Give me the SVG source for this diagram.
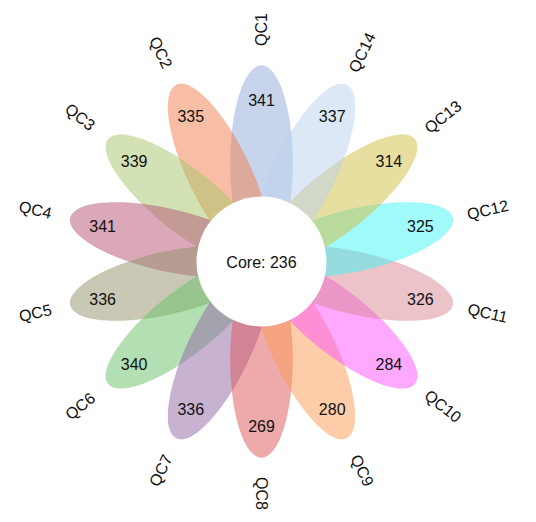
<svg xmlns="http://www.w3.org/2000/svg" width="536" height="522" viewBox="0 0 536 522">
<style>
.p{fill-opacity:0.5;stroke-width:0.6;stroke-opacity:0.35}
.n{font-family:"Liberation Sans",Arial,sans-serif;font-size:16px;fill:#111;text-anchor:middle}
.l{font-family:"Liberation Sans",Arial,sans-serif;font-size:16px;fill:#111;text-anchor:middle;dominant-baseline:central}
.c{font-family:"Liberation Sans",Arial,sans-serif;font-size:16px;fill:#111;text-anchor:middle}
</style>
<rect width="536" height="522" fill="#fff"/>
<g id="QC1"><ellipse class="p" transform="rotate(-90 261.5 261.5)" cx="359.5" cy="261.5" rx="98" ry="31" fill="#91a9d9" stroke="#91a9d9"/><text class="n" x="261.5" y="105.5">341</text><text class="l" transform="translate(261.5 29.5) rotate(-90)">QC1</text></g>
<g id="QC2"><ellipse class="p" transform="rotate(-115.714 261.5 261.5)" cx="359.5" cy="261.5" rx="98" ry="31" fill="#ef7d4b" stroke="#ef7d4b"/><text class="n" x="190.8" y="121.6">335</text><text class="l" transform="translate(160.8 52.5) rotate(64.286)">QC2</text></g>
<g id="QC3"><ellipse class="p" transform="rotate(-141.429 261.5 261.5)" cx="359.5" cy="261.5" rx="98" ry="31" fill="#a5c569" stroke="#a5c569"/><text class="n" x="134.1" y="166.9">339</text><text class="l" transform="translate(80.1 116.9) rotate(38.571)">QC3</text></g>
<g id="QC4"><ellipse class="p" transform="rotate(-167.143 261.5 261.5)" cx="359.5" cy="261.5" rx="98" ry="31" fill="#b55173" stroke="#b55173"/><text class="n" x="102.6" y="232.2">341</text><text class="l" transform="translate(35.3 209.9) rotate(12.857)">QC4</text></g>
<g id="QC5"><ellipse class="p" transform="rotate(-192.857 261.5 261.5)" cx="359.5" cy="261.5" rx="98" ry="31" fill="#919169" stroke="#919169"/><text class="n" x="102.6" y="304.8">336</text><text class="l" transform="translate(35.3 313.1) rotate(-12.857)">QC5</text></g>
<g id="QC6"><ellipse class="p" transform="rotate(-218.571 261.5 261.5)" cx="359.5" cy="261.5" rx="98" ry="31" fill="#65c165" stroke="#65c165"/><text class="n" x="134.1" y="370.1">340</text><text class="l" transform="translate(80.1 406.1) rotate(-38.571)">QC6</text></g>
<g id="QC7"><ellipse class="p" transform="rotate(-244.286 261.5 261.5)" cx="359.5" cy="261.5" rx="98" ry="31" fill="#9165a5" stroke="#9165a5"/><text class="n" x="190.8" y="415.4">336</text><text class="l" transform="translate(160.8 470.5) rotate(-64.286)">QC7</text></g>
<g id="QC8"><ellipse class="p" transform="rotate(-270 261.5 261.5)" cx="359.5" cy="261.5" rx="98" ry="31" fill="#dd5555" stroke="#dd5555"/><text class="n" x="261.5" y="432">269</text><text class="l" transform="translate(261.5 493.5) rotate(90)">QC8</text></g>
<g id="QC9"><ellipse class="p" transform="rotate(-295.714 261.5 261.5)" cx="359.5" cy="261.5" rx="98" ry="31" fill="#fb9b55" stroke="#fb9b55"/><text class="n" x="332.2" y="415.4">280</text><text class="l" transform="translate(362.2 470.5) rotate(64.286)">QC9</text></g>
<g id="QC10"><ellipse class="p" transform="rotate(-321.429 261.5 261.5)" cx="359.5" cy="261.5" rx="98" ry="31" fill="#ff51ff" stroke="#ff51ff"/><text class="n" x="388.9" y="370.1">284</text><text class="l" transform="translate(442.9 406.1) rotate(38.571)">QC10</text></g>
<g id="QC11"><ellipse class="p" transform="rotate(-347.143 261.5 261.5)" cx="359.5" cy="261.5" rx="98" ry="31" fill="#d78791" stroke="#d78791"/><text class="n" x="420.4" y="304.8">326</text><text class="l" transform="translate(487.7 313.1) rotate(12.857)">QC11</text></g>
<g id="QC12"><ellipse class="p" transform="rotate(-12.857 261.5 261.5)" cx="359.5" cy="261.5" rx="98" ry="31" fill="#41f5f5" stroke="#41f5f5"/><text class="n" x="420.4" y="232.2">325</text><text class="l" transform="translate(487.7 209.9) rotate(-12.857)">QC12</text></g>
<g id="QC13"><ellipse class="p" transform="rotate(-38.571 261.5 261.5)" cx="359.5" cy="261.5" rx="98" ry="31" fill="#d1bd41" stroke="#d1bd41"/><text class="n" x="388.9" y="166.9">314</text><text class="l" transform="translate(442.9 116.9) rotate(-38.571)">QC13</text></g>
<g id="QC14"><ellipse class="p" transform="rotate(-64.286 261.5 261.5)" cx="359.5" cy="261.5" rx="98" ry="31" fill="#b9d1ed" stroke="#b9d1ed"/><text class="n" x="332.2" y="121.6">337</text><text class="l" transform="translate(362.2 52.5) rotate(-64.286)">QC14</text></g>
<g id="core"><circle cx="261.5" cy="261.5" r="65" fill="#fff"/><text class="c" x="261.5" y="268.4">Core: 236</text></g>
</svg>
